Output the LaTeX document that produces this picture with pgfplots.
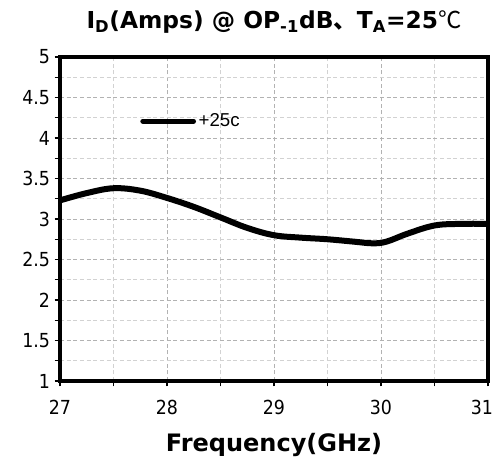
\documentclass[border=0pt]{standalone}
\usepackage{pgfplots}
\pgfplotsset{compat=1.18}
\usepackage{fontspec}
\setmainfont{DejaVu Sans}
\newfontfamily\tickfont{DejaVu Sans Condensed}
\newfontfamily\cjk{Noto Sans CJK SC}
\newfontfamily\legfont{Liberation Sans}
\begin{document}
\begin{tikzpicture}[x=0.75pt,y=0.75pt]
\useasboundingbox (-60,-81) rectangle (436,381);
\begin{axis}[
  at={(0,0)}, anchor=south west,
  scale only axis, width=321pt, height=243pt,
  xmin=27, xmax=31, ymin=1, ymax=5,
  xtick={27,28,29,30,31},
  xticklabels={27,28,29,30,{31\rule{9pt}{0pt}}},
  minor xtick={27.5,28.5,29.5,30.5},
  ytick={1,1.5,2,2.5,3,3.5,4,4.5,5},
  minor ytick={1.25,1.75,2.25,2.75,3.25,3.75,4.25,4.75},
  yticklabels={1,1.5,2,2.5,3,3.5,4,4.5,5},
  tick align=outside, tick pos=left,
  major tick length=4pt, minor tick length=4pt,
  every tick/.style={black, line width=0.8pt},
  axis line style={line width=2.8pt},
  grid=both,
  major grid style={densely dashed, gray!60, line width=0.5pt},
  minor grid style={densely dashed, gray!35, line width=0.5pt},
  ticklabel style={font=\tickfont\fontsize{14.5}{14.5}\selectfont},
  /pgf/number format/assume math mode=true,
  xticklabel style={yshift=-7pt},
  title={\textbf{I\textsubscript{D}(Amps) @ OP\textsubscript{-1}dB{\cjk 、}T\textsubscript{A}=25}{\cjk ℃}},
  title style={font=\fontsize{17.5}{18}\selectfont, yshift=8pt},
  xlabel={\textbf{Frequency(GHz)}},
  xlabel style={font=\fontsize{18}{18}\selectfont, yshift=-7pt},
  legend style={draw=none, fill=none, at={(0.187,0.802)}, anchor=west, inner sep=0pt, font=\legfont\fontsize{14}{14}\selectfont},
  legend cell align=left,
  legend image code/.code={\draw[line width=3.8pt, line cap=round] (0pt,0pt) -- (38pt,0pt);},
]
\addplot[black, line width=4.5pt, smooth, tension=0.6] coordinates {
(27,3.23) (27.25,3.32) (27.5,3.38) (27.75,3.35) (28,3.26) (28.25,3.15) (28.5,3.02)
(28.75,2.89) (29,2.80) (29.25,2.77) (29.5,2.75) (29.75,2.72) (29.92,2.70) (30.05,2.72)
(30.25,2.82) (30.5,2.92) (30.75,2.94) (31,2.94)};
\addlegendentry{+25c}
\end{axis}
\end{tikzpicture}
\end{document}
